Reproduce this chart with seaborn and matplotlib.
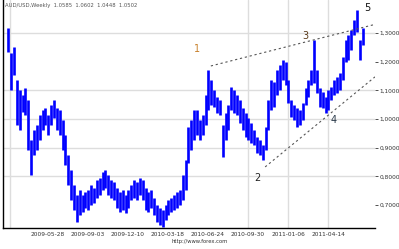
import numpy as np
import pandas as pd
import matplotlib
matplotlib.use("Agg")
import matplotlib.pyplot as plt
import matplotlib.dates as mdates
import seaborn as sns

# ---- data (weekly high / low) ----
start_date = "2009-02-20"
highs = [1.317, 1.230, 1.251, 1.136, 1.101, 1.084, 1.108, 1.066, 0.927, 0.962,
         0.979, 1.014, 1.031, 1.038, 1.014, 1.049, 1.066, 1.038, 1.031, 0.997,
         0.944, 0.874, 0.822, 0.770, 0.735, 0.752, 0.735, 0.745, 0.752, 0.770,
         0.759, 0.787, 0.794, 0.815, 0.822, 0.805, 0.787, 0.780, 0.759, 0.745,
         0.752, 0.735, 0.752, 0.770, 0.787, 0.780, 0.794, 0.787, 0.759, 0.745,
         0.752, 0.724, 0.700, 0.690, 0.683, 0.700, 0.717, 0.724, 0.735, 0.745,
         0.752, 0.805, 0.857, 0.972, 0.997, 1.031, 1.031, 0.997, 1.014, 1.084,
         1.171, 1.136, 1.101, 1.077, 1.066, 0.979, 1.021, 1.049, 1.112, 1.101,
         1.084, 1.066, 1.038, 1.021, 1.004, 0.986, 0.962, 0.937, 0.927, 0.909,
         0.972, 1.066, 1.136, 1.129, 1.171, 1.188, 1.206, 1.199, 1.136, 1.066,
         1.049, 1.038, 1.031, 1.056, 1.108, 1.136, 1.171, 1.276, 1.171, 1.108,
         1.094, 1.077, 1.101, 1.112, 1.136, 1.147, 1.161, 1.216, 1.276, 1.293,
         1.310, 1.345, 1.380, 1.276, 1.317]
lows = [1.234, 1.101, 1.154, 0.979, 0.962, 1.024, 1.014, 0.892, 0.805, 0.874,
        0.892, 0.927, 0.962, 0.979, 0.944, 0.979, 1.004, 0.962, 0.944, 0.892,
        0.840, 0.770, 0.717, 0.683, 0.641, 0.665, 0.676, 0.690, 0.683, 0.700,
        0.707, 0.724, 0.735, 0.752, 0.759, 0.735, 0.724, 0.717, 0.690, 0.676,
        0.683, 0.672, 0.690, 0.717, 0.724, 0.717, 0.735, 0.717, 0.683, 0.676,
        0.690, 0.665, 0.641, 0.630, 0.623, 0.648, 0.665, 0.676, 0.683, 0.690,
        0.700, 0.717, 0.752, 0.847, 0.892, 0.927, 0.944, 0.927, 0.944, 0.979,
        1.031, 1.049, 1.042, 1.021, 1.014, 0.867, 0.927, 0.962, 1.031, 1.021,
        1.014, 0.986, 0.962, 0.937, 0.927, 0.916, 0.909, 0.881, 0.874, 0.857,
        0.892, 0.962, 1.031, 1.042, 1.084, 1.101, 1.136, 1.119, 1.056, 1.007,
        0.997, 0.972, 0.979, 0.997, 1.049, 1.077, 1.119, 1.126, 1.091, 1.042,
        1.038, 1.021, 1.031, 1.066, 1.084, 1.091, 1.101, 1.136, 1.199, 1.206,
        1.241, 1.293, 1.303, 1.206, 1.258]

upper_trend_dates = ["2010-07-01", "2011-08-07"]
upper_trend_vals = [1.185, 1.330]
lower_trend_dates = ["2010-11-11", "2011-08-07"]
lower_trend_vals = [0.833, 1.147]

wave_labels = ["1", "2", "3", "4", "5"]
wave_dates = ["2010-05-29", "2010-10-22", "2011-02-18", "2011-04-28", "2011-07-20"]
wave_vals = [1.243, 0.795, 1.288, 0.995, 1.388]
wave_colors = ["#c8802a", "#222222", "#5a3a1a", "#2a3a4a", "#111111"]

ytick_vals = [0.7, 0.8, 0.9, 1.0, 1.1, 1.2, 1.3]
hgrid_vals = [0.8, 0.9, 1.0, 1.1, 1.3]
xtick_dates = ["2009-05-28", "2009-09-03", "2009-12-10", "2010-03-18",
               "2010-06-24", "2010-09-30", "2011-01-06", "2011-04-14"]
vgrid_dates = ["2009-02-25", "2010-09-30", "2011-01-06", "2011-04-14"]

title_text = "AUD/USD,Weekly  1.0585  1.0602  1.0448  1.0502"
footer_text = "http://www.forex.com"

# ---- figure ----
sns.set_style("white")
plt.rcParams['font.family'] = ['DejaVu Sans']

fig = plt.figure(figsize=(3.99, 2.49), dpi=100)
ax = fig.add_axes([3 / 399, 1 - 228 / 249, 372 / 399, 228 / 249])

dates = pd.date_range(start_date, periods=len(highs), freq="7D")
df = pd.DataFrame({"date": dates, "high": highs, "low": lows})

for v in hgrid_vals:
    ax.axhline(v, color="#dddddd", lw=1.0, zorder=0)
for d in vgrid_dates:
    ax.axvline(pd.Timestamp(d), color="#dddddd", lw=1.0, zorder=0)

ax.vlines(df["date"], df["low"], df["high"], color="#0000ff", lw=1.9, zorder=2)

tr = pd.DataFrame({"date": pd.to_datetime(upper_trend_dates + lower_trend_dates),
                   "val": upper_trend_vals + lower_trend_vals,
                   "line": ["upper"] * 2 + ["lower"] * 2})
for name, g in tr.groupby("line"):
    sns.lineplot(data=g, x="date", y="val", ax=ax, color="#555555",
                 lw=0.8, linestyle=(0, (2, 2.5)), zorder=3)

for lab, d, v, c in zip(wave_labels, wave_dates, wave_vals, wave_colors):
    ax.text(pd.Timestamp(d), v, lab, color=c, fontsize=7, ha="center",
            va="center", zorder=4)

ax.set_xlim(pd.Timestamp("2009-02-07"), pd.Timestamp("2011-08-07"))
ax.set_ylim(0.620, 1.415)
ax.set_xlabel("")
ax.set_ylabel("")

ax.yaxis.tick_right()
ax.set_yticks(ytick_vals)
ax.set_yticklabels([f"{v:.4f}".replace(".", ",") for v in ytick_vals])
ax.set_xticks(pd.to_datetime(xtick_dates))
ax.set_xticklabels(xtick_dates)
ax.tick_params(axis="both", labelsize=4.2, colors="#333333", length=2,
               width=0.6, pad=1.5)
ax.tick_params(axis="x", length=0, pad=3)

for s in ["top", "right"]:
    ax.spines[s].set_visible(False)
for s in ["left", "bottom"]:
    ax.spines[s].set_visible(True)
    ax.spines[s].set_color("black")
    ax.spines[s].set_linewidth(1.0)

ax.text(0.006, 0.985, title_text, transform=ax.transAxes, fontsize=3.8,
        color="#555555", va="top", ha="left")
fig.text(0.5, 0.02, footer_text, fontsize=3.8, color="#333333", ha="center",
         va="bottom")

fig.savefig("out.png", dpi=100)
